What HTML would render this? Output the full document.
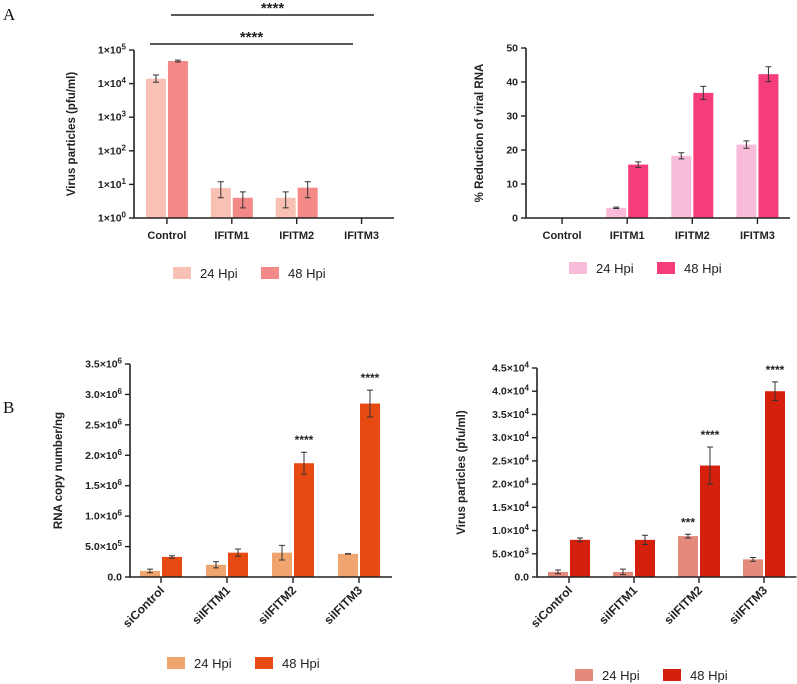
<!DOCTYPE html>
<html><head><meta charset="utf-8"><style>
html,body{margin:0;padding:0;background:#fff}
svg{display:block;font-family:"Liberation Sans",Arial,sans-serif}
.t{font-size:10.5px;font-weight:bold;fill:#222}
.lg{font-size:13px;fill:#222}
</style></head><body>
<svg id="fig" width="797" height="684" viewBox="0 0 797 684">
<text x="3" y="20" font-family="Liberation Serif" font-size="17" fill="#111">A</text>
<text x="3" y="413" font-family="Liberation Serif" font-size="17" fill="#111">B</text>
</svg>
<script>
// Panel A left (log scale)
const aLeftCats = ["Control","IFITM1","IFITM2","IFITM3"];
const aLeft24 = [14000, 7.8, 4, 0];
const aLeft24Lo = [11000, 4, 2, 0];
const aLeft24Hi = [18000, 12, 6, 0];
const aLeft48 = [47000, 4, 8, 0];
const aLeft48Lo = [44000, 2, 4, 0];
const aLeft48Hi = [50000, 6, 12, 0];
const aLeftTicks = [0,1,2,3,4,5];
// Panel A right
const aRightCats = ["Control","IFITM1","IFITM2","IFITM3"];
const aRight24 = [0, 3.0, 18.3, 21.6];
const aRight24Err = [0, 0.2, 0.9, 1.1];
const aRight48 = [0, 15.7, 36.8, 42.3];
const aRight48Err = [0, 0.8, 1.9, 2.2];
const aRightTicks = [0,10,20,30,40,50];
// Panel B left
const bLeftCats = ["siControl","siIFITM1","siIFITM2","siIFITM3"];
const bLeft24 = [1.0e5, 2.0e5, 4.0e5, 3.8e5];
const bLeft24Err = [0.3e5, 0.5e5, 1.2e5, 0.05e5];
const bLeft48 = [3.3e5, 4.0e5, 1.87e6, 2.85e6];
const bLeft48Err = [0.2e5, 0.6e5, 0.18e6, 0.22e6];
const bLeftTicks = ["0.0","5.0","1.0","1.5","2.0","2.5","3.0","3.5"];
const bLeftTickExp = ["",5,6,6,6,6,6,6];
const bLeftStars = ["","","****","****"];
// Panel B right
const bRightCats = ["siControl","siIFITM1","siIFITM2","siIFITM3"];
const bRight24 = [1100, 1100, 8800, 3800];
const bRight24Err = [400, 600, 400, 400];
const bRight48 = [8000, 8000, 24000, 40000];
const bRight48Err = [400, 1000, 4000, 2000];
const bRightTicks = ["0.0","5.0","1.0","1.5","2.0","2.5","3.0","3.5","4.0","4.5"];
const bRightTickExp = ["",3,4,4,4,4,4,4,4,4];
const bRightStars24 = ["","","***",""];
const bRightStars48 = ["","","****","****"];

const NS="http://www.w3.org/2000/svg";
const svg=document.getElementById('fig');
function mk(tag,attrs,parent){const e=document.createElementNS(NS,tag);for(const k in attrs)e.setAttribute(k,attrs[k]);(parent||svg).appendChild(e);return e;}

function chart(o){
  const g=mk('g',{});
  
  
  const y=v=>o.log?(v<=0?o.base:o.base-(Math.log10(v)-o.min)/(o.max-o.min)*(o.base-o.top)):o.base-(v-o.min)/(o.max-o.min)*(o.base-o.top);
  const n=o.cats.length, bw=(o.xEnd-o.xStart)/n;
  const cx=i=>o.xStart+bw*(i+0.5);
  const series=[{v:o.s24,lo:o.lo24,hi:o.hi24,c:o.c24,dx:-21,nm:'24'},{v:o.s48,lo:o.lo48,hi:o.hi48,c:o.c48,dx:1,nm:'48'}];
  series.forEach(s=>{
    s.v.forEach((v,i)=>{
      if(v<=0)return;
      const x=cx(i)+s.dx, yy=y(v);
      const r=mk('rect',{x:x,y:yy,width:20,height:o.base-yy,fill:s.c},g);
      
      
      const y1=y(s.hi[i]),y2=y(s.lo[i]),mx=x+10;
      const eb=mk('path',{d:`M${mx},${y1}V${y2}M${mx-3},${y1}H${mx+3}M${mx-3},${y2}H${mx+3}`,stroke:'#333','stroke-width':1,fill:'none'},g);
      
      
    });
  });
  [[o.st24,-11],[o.st48,11]].forEach(([arr,dx])=>{if(!arr)return;arr.forEach((t,i)=>{if(!t)return;
    const hi=dx<0?o.hi24[i]:o.hi48[i];
    const st=mk('text',{x:cx(i)+dx,y:y(hi)-8,'text-anchor':'middle','font-size':12,'font-weight':'bold',fill:'#222'},g);st.textContent=t;
    
    });});
  const ax=mk('path',{d:`M${o.axX},${o.top}V${o.base}H${o.xEnd}`,stroke:'#222','stroke-width':1.6,fill:'none'},g);
  
  
  o.ticks.forEach((tv,i)=>{
    const yy=y(o.log?Math.pow(10,tv):o.tickVals[i]);
    mk('line',{x1:o.axX-5,x2:o.axX,y1:yy,y2:yy,stroke:'#222','stroke-width':1.4},g);
    const t=mk('text',{x:o.axX-8,y:yy+3.5,'text-anchor':'end',class:'t'},g);
    
    
    if(o.log){t.textContent='1×10';const s=mk('tspan',{dy:-4,'font-size':8},t);s.textContent=tv;}
    else if(o.exp){t.textContent=tv+(o.exp[i]!==''?'×10':'');if(o.exp[i]!==''){const s=mk('tspan',{dy:-4,'font-size':8},t);s.textContent=o.exp[i];}}
    else t.textContent=tv;
  });
  o.cats.forEach((c,i)=>{
    mk('line',{x1:cx(i),x2:cx(i),y1:o.base,y2:o.base+6,stroke:'#222','stroke-width':1.4},g);
    let t;
    if(o.rot){t=mk('text',{x:cx(i)+4,y:o.base+14,'text-anchor':'end',class:'t',transform:`rotate(-45 ${cx(i)+4} ${o.base+14})`},g);t.style.fontSize='12px';}
    else {t=mk('text',{x:cx(i),y:o.base+21,'text-anchor':'middle',class:'t'},g);t.style.fontSize='11px';}
    t.textContent=c;
    
    
  });
  const yl=mk('text',{x:o.ylx,y:(o.top+o.base)/2,'text-anchor':'middle',class:'t',transform:`rotate(-90 ${o.ylx} ${(o.top+o.base)/2})`},g);
  yl.style.fontSize='11.5px';
  yl.textContent=o.ylabel;
  
  
  [[o.c24,'24 Hpi',o.lgX],[o.c48,'48 Hpi',o.lgX+88]].forEach(([c,txt,x])=>{
    const r=mk('rect',{x:x,y:o.lgY-6,width:18,height:12,fill:c},g);
    
    
    const t=mk('text',{x:x+27,y:o.lgY+5,class:'lg'},g);t.textContent=txt;
    
    
  });
}
chart({name:'chart-a-left',log:true,min:0,max:5,base:218,top:50,axX:134,xStart:134.5,xEnd:394,cats:aLeftCats,
  s24:aLeft24,lo24:aLeft24Lo,hi24:aLeft24Hi,s48:aLeft48,lo48:aLeft48Lo,hi48:aLeft48Hi,ticks:aLeftTicks,
  c24:'#f9c0b4',c48:'#f48a87',ylabel:'Virus particles (pfu/ml)',ylx:75,lgX:173,lgY:273});
chart({name:'chart-a-right',min:0,max:50,base:218,top:48,axX:526,xStart:529.5,xEnd:790,cats:aRightCats,
  s24:aRight24,lo24:aRight24.map((v,i)=>v-aRight24Err[i]),hi24:aRight24.map((v,i)=>v+aRight24Err[i]),
  s48:aRight48,lo48:aRight48.map((v,i)=>v-aRight48Err[i]),hi48:aRight48.map((v,i)=>v+aRight48Err[i]),
  ticks:aRightTicks,tickVals:aRightTicks,c24:'#f8bcd8',c48:'#f53d7a',ylabel:'% Reduction of viral RNA',ylx:483,lgX:569,lgY:268});
chart({name:'chart-b-left',min:0,max:3.5e6,base:577,top:364,axX:130,xStart:128,xEnd:392,cats:bLeftCats,rot:true,
  s24:bLeft24,lo24:bLeft24.map((v,i)=>v-bLeft24Err[i]),hi24:bLeft24.map((v,i)=>v+bLeft24Err[i]),
  s48:bLeft48,lo48:bLeft48.map((v,i)=>v-bLeft48Err[i]),hi48:bLeft48.map((v,i)=>v+bLeft48Err[i]),
  ticks:bLeftTicks,exp:bLeftTickExp,tickVals:bLeftTicks.map((t,i)=>i*5e5),st48:bLeftStars,
  c24:'#f0a46e',c48:'#e84a13',ylabel:'RNA copy number/ng',ylx:62,lgX:167,lgY:663});
chart({name:'chart-b-right',min:0,max:4.5e4,base:577,top:368,axX:537,xStart:536.5,xEnd:796.5,cats:bRightCats,rot:true,
  s24:bRight24,lo24:bRight24.map((v,i)=>v-bRight24Err[i]),hi24:bRight24.map((v,i)=>v+bRight24Err[i]),
  s48:bRight48,lo48:bRight48.map((v,i)=>v-bRight48Err[i]),hi48:bRight48.map((v,i)=>v+bRight48Err[i]),
  ticks:bRightTicks,exp:bRightTickExp,tickVals:bRightTicks.map((t,i)=>i*5e3),st24:bRightStars24,st48:bRightStars48,
  c24:'#e58a7b',c48:'#d4200c',ylabel:'Virus particles (pfu/ml)',ylx:465,lgX:575,lgY:675});
[[171,374,15,'****'],[150,353,44,'****']].forEach(([x1,x2,yy,t])=>{
  const l=mk('line',{x1:x1,x2:x2,y1:yy,y2:yy,stroke:'#222','stroke-width':1.6});
  
  
  const s=mk('text',{x:(x1+x2)/2,y:yy-2,'text-anchor':'middle','font-size':15,'font-weight':'bold',fill:'#222'});
  s.textContent=t;
  
  
});
</script>
</body></html>
